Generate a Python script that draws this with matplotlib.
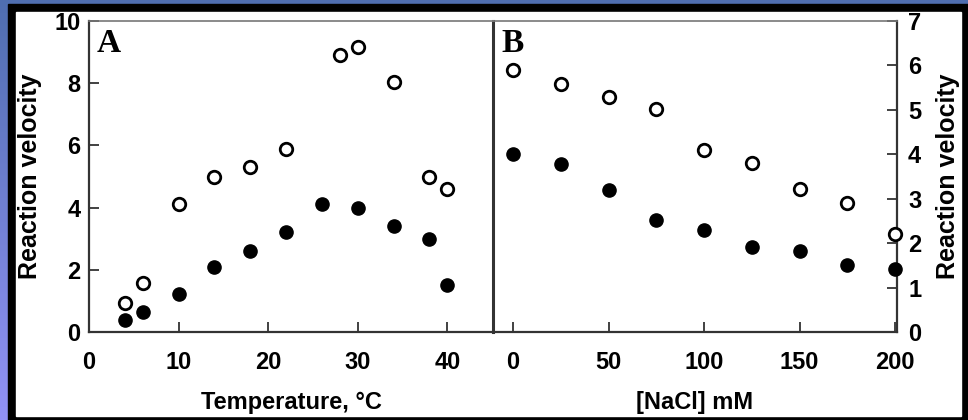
import numpy as np
import matplotlib
matplotlib.use("Agg")
import matplotlib.pyplot as plt
from matplotlib.patches import Rectangle
from matplotlib.colors import LinearSegmentedColormap

# ---- data ----
temp_open_x = [4, 6, 10, 14, 18, 22, 28, 30, 34, 38, 40]
temp_open_y = [0.93, 1.59, 4.1, 5.0, 5.3, 5.9, 8.9, 9.17, 8.05, 5.0, 4.6]
temp_fill_x = [4, 6, 10, 14, 18, 22, 26, 30, 34, 38, 40]
temp_fill_y = [0.40, 0.65, 1.21, 2.1, 2.6, 3.2, 4.1, 4.0, 3.4, 3.0, 1.5]

nacl_x = [0, 25, 50, 75, 100, 125, 150, 175, 200]
nacl_open_y = [5.89, 5.59, 5.29, 5.01, 4.09, 3.81, 3.21, 2.90, 2.20]
nacl_fill_y = [4.00, 3.79, 3.20, 2.51, 2.30, 1.91, 1.83, 1.50, 1.41]

temp_ticks = [0, 10, 20, 30, 40]
vel_ticks_a = [0, 2, 4, 6, 8, 10]
nacl_ticks = [0, 50, 100, 150, 200]
vel_ticks_b = [0, 1, 2, 3, 4, 5, 6, 7]

W, H = 968, 420
fig = plt.figure(figsize=(W / 100, H / 100), dpi=100)

# background
bg = fig.add_axes([0, 0, 1, 1], zorder=-10)
cmap = LinearSegmentedColormap.from_list("bg", ["#4f6eb0", "#9292f6"])
grad = np.linspace(0, 1, 256).reshape(-1, 1)
bg.imshow(grad, cmap=cmap, aspect="auto", extent=[0, W, H, 0])
bg.add_patch(Rectangle((7.5, 4), W - 7.5, H - 4, color="black"))
bg.add_patch(Rectangle((16, 12), 961 - 16, 416 - 12, color="white"))
bg.set_xlim(0, W)
bg.set_ylim(H, 0)
bg.axis("off")

tick_font = dict(family=["Liberation Sans", "DejaVu Sans"], weight="bold", size=17)
lab_font = dict(family=["Liberation Sans", "DejaVu Sans"], weight="bold", size=17)
ylab_font = dict(family=["Liberation Sans", "DejaVu Sans"], weight="bold", size=18)


def px_axes(l, t, r, b):
    return fig.add_axes([l / W, 1 - b / H, (r - l) / W, (b - t) / H])


axA = px_axes(89, 21, 493, 332)
axB = px_axes(493, 21, 897, 332)

for ax in (axA, axB):
    ax.set_facecolor("none")
    for s in ax.spines.values():
        s.set_color("#333333")
        s.set_linewidth(1.6)
    ax.spines["top"].set_color("#777777")
    ax.spines["top"].set_linewidth(1.2)

# Panel A
axA.plot(temp_open_x, temp_open_y, "o", mfc="white", mec="black", ms=9, mew=2, clip_on=False, zorder=3)
axA.plot(temp_fill_x, temp_fill_y, "o", mfc="black", mec="black", ms=9.5, clip_on=False, zorder=3)
axA.set_xlim(0, 45.1)
axA.set_ylim(0, 10)
axA.set_xticks(temp_ticks)
axA.set_yticks(vel_ticks_a)
axA.tick_params(direction="in", length=7, width=1.3, color="#333333")
axA.tick_params(axis="x", pad=14)
axA.tick_params(axis="y", pad=6)
axA.spines["right"].set_linewidth(2.2)
for lbl in axA.get_xticklabels() + axA.get_yticklabels():
    lbl.set(**tick_font)
axA.text(-0.145, 0.5, "Reaction velocity", transform=axA.transAxes, rotation=90,
         ha="center", va="center", **ylab_font)
axA.text(0.5, -0.228, "Temperature, °C", transform=axA.transAxes,
         ha="center", va="center", **lab_font)
axA.text(0.02, 0.977, "A", transform=axA.transAxes, ha="left", va="top",
         family=["Liberation Serif", "DejaVu Serif"], weight="bold", size=24)

# Panel B
axB.plot(nacl_x, nacl_open_y, "o", mfc="white", mec="black", ms=9, mew=2, clip_on=False, zorder=3)
axB.plot(nacl_x, nacl_fill_y, "o", mfc="black", mec="black", ms=9.5, clip_on=False, zorder=3)
axB.set_xlim(-10.5, 201)
axB.set_ylim(0, 7)
axB.set_xticks(nacl_ticks)
axB.set_yticks(vel_ticks_b)
axB.yaxis.tick_right()
axB.tick_params(direction="in", length=7, width=1.3, color="#333333")
axB.tick_params(axis="x", pad=14)
axB.tick_params(axis="y", pad=8)
axB.spines["left"].set_visible(False)
for lbl in axB.get_xticklabels() + axB.get_yticklabels():
    lbl.set(**tick_font)
axB.text(1.126, 0.5, "Reaction velocity", transform=axB.transAxes, rotation=90,
         ha="center", va="center", **ylab_font)
axB.text(0.5, -0.228, "[NaCl] mM", transform=axB.transAxes,
         ha="center", va="center", **lab_font)
axB.text(0.022, 0.977, "B", transform=axB.transAxes, ha="left", va="top",
         family=["Liberation Serif", "DejaVu Serif"], weight="bold", size=24)

fig.savefig("out.png", dpi=100)
